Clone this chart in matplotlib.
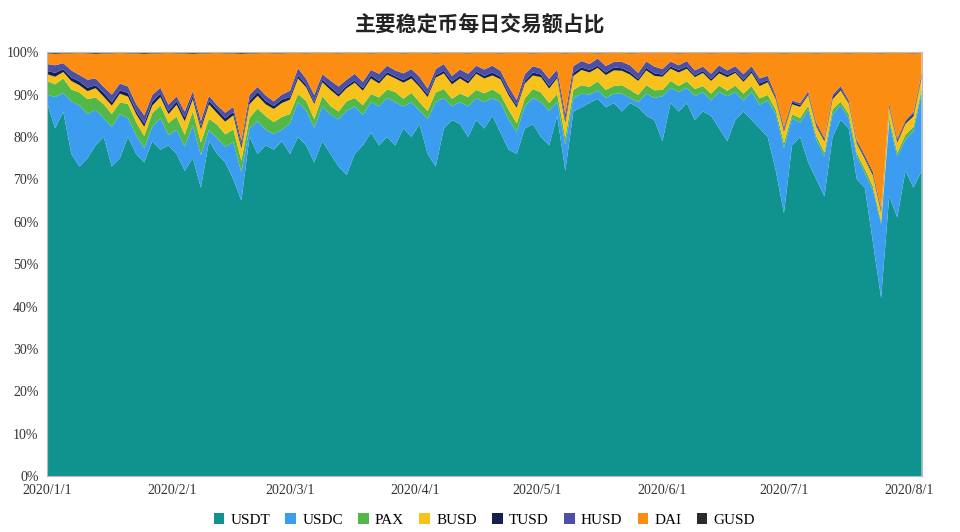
import matplotlib
matplotlib.use("Agg")
import matplotlib.pyplot as plt
import matplotlib.dates as mdates
import numpy as np
import pandas as pd

# every second day from 2020/1/1
dates = pd.date_range("2020-01-01", periods=109, freq="2D")

usdt = [88, 82, 86, 76, 73, 75, 78, 80, 73, 75, 80, 76, 74, 79, 77, 78,
        76, 72, 75, 68, 79, 76, 74, 70, 65, 80, 76, 78, 77, 79,
        76, 80, 78, 74, 79, 76, 73, 71, 76, 78, 81, 78, 80, 78, 82, 80,
        83, 76, 73, 82, 84, 83, 80, 84, 82, 85, 81, 77, 76, 82, 83, 80,
        78, 85, 72, 86, 87, 88, 89, 87, 88, 86, 88, 87, 85, 84,
        79, 88, 86, 88, 84, 86, 85, 82, 79, 84, 86, 84, 82, 80,
        72, 62, 78, 80, 74, 70, 66, 80, 84, 82, 70, 68, 55, 42, 66, 61,
        72, 68, 72]
usdc = [2, 7.4, 4.4, 12.4, 14.4, 10.4, 8.4, 4.4, 9.4, 10.4, 4.4, 4.4, 3.4, 3.4, 7.4, 2.4,
        5.7, 5.7, 7.7, 7.7, 2.7, 3.7, 3.7, 8.7, 6.7, 2, 7.7, 3.7, 3.7, 2.7,
        7.2, 8.2, 8.2, 8.2, 8.2, 9.2, 11.2, 15.2, 11.2, 7.2, 7.2, 9.2, 9.2, 10.2, 5.2, 8.2,
        3.2, 8.2, 15.2, 7.2, 3.2, 5.2, 7.2, 5.2, 6.2, 4.2, 7.2, 7.2, 5.2, 5.2, 6.2, 8.2,
        8.2, 3.2, 6.2, 3.2, 3.2, 2, 2, 2.2, 2.2, 4.2, 1.2, 1.2, 5.2, 5.2,
        10.6, 3.6, 4.6, 3.6, 5.6, 4.6, 3.6, 8.6, 10.6, 6.6, 2.6, 6.6, 5.6, 8.6,
        13.4, 15.4, 6.4, 3.4, 12.4, 9.4, 9.4, 5.4, 3.4, 2.4, 5.4, 3.4, 12.4, 17.4, 17.4, 14.4,
        7.4, 13.4, 18.4]
pax = [3.2, 3.0, 3.4, 2.8, 3.1, 3.5, 2.9, 3.3, 3.0, 2.7, 3.4, 3.1, 2.8, 3.2, 3.0, 2.9,
       3.1, 2.8, 3.3, 3.0, 2.6, 3.2, 2.9, 3.1, 2.7, 2.5, 3.0, 3.2, 2.8, 3.0,
       2.2, 1.9, 2.3, 2.0, 2.4, 2.1, 1.8, 2.2, 2.0, 2.3, 1.9, 2.1, 2.0, 2.4, 1.8, 2.2,
       2.0, 1.9, 2.3, 2.1, 1.8, 2.0, 2.2, 1.9, 2.1, 2.0, 1.8, 2.2, 2.0, 1.9, 2.1, 2.3,
       1.8, 2.0, 1.7, 1.9, 2.0, 1.8, 2.1, 1.9, 1.8, 2.0, 1.9, 1.7, 2.0, 1.8,
       1.5, 1.6, 1.4, 1.5, 1.7, 1.4, 1.6, 1.5, 1.3, 1.5, 1.6, 1.4, 1.5, 1.3,
       1.0, 1.2, 0.9, 1.1, 1.0, 0.8, 1.0, 1.1, 0.9, 1.0, 0.8, 1.0, 0.9, 0.7, 1.0, 0.9,
       1.1, 1.0, 0.9]
busd = [1.6, 1.8, 1.5, 2.0, 1.7, 1.9, 2.2, 1.8, 2.0, 2.1, 1.7, 1.9, 2.2, 1.8, 2.0, 2.1,
        2.8, 3.2, 2.9, 3.1, 3.4, 2.7, 3.0, 3.3, 2.9, 3.2, 3.0, 2.8, 3.1, 3.3,
        3.4, 3.7, 3.2, 3.6, 3.3, 3.8, 3.5, 3.1, 3.6, 3.4, 3.7, 3.3, 3.5, 3.2, 3.8, 3.4,
        3.6, 3.3, 3.5, 3.7, 3.4, 3.6, 3.2, 3.8, 3.5, 3.3, 3.6, 3.4, 3.7, 3.5, 3.2, 3.6,
        3.4, 3.7, 3.5, 3.3, 3.6, 3.4, 3.2, 3.5, 3.7, 3.4, 3.6, 3.3, 3.5, 3.4,
        3.1, 2.9, 3.2, 3.0, 2.8, 3.1, 3.0, 2.9, 3.2, 3.0, 2.8, 3.1, 2.9, 3.0,
        2.5, 2.7, 2.4, 2.6, 2.5, 2.3, 2.6, 2.4, 2.7, 2.5, 2.3, 2.4, 2.6, 2.2, 2.5, 2.4,
        2.6, 2.5, 2.7]
tusd = [0.8, 0.9, 0.7, 0.8, 0.9, 0.8, 0.7, 0.9, 0.8, 0.8, 0.9, 0.7, 0.8, 0.9, 0.8, 0.7,
        0.8, 0.9, 0.8, 0.7, 0.8, 0.9, 0.8, 0.8, 0.7, 0.8, 0.9, 0.8, 0.7, 0.8,
        0.6, 0.7, 0.6, 0.5, 0.6, 0.7, 0.6, 0.6, 0.5, 0.6, 0.7, 0.6, 0.6, 0.5, 0.6, 0.7,
        0.6, 0.6, 0.5, 0.6, 0.7, 0.6, 0.6, 0.5, 0.6, 0.7, 0.6, 0.6, 0.5, 0.6, 0.7, 0.6,
        0.6, 0.5, 0.6, 0.7, 0.6, 0.6, 0.5, 0.6, 0.7, 0.6, 0.6, 0.5, 0.6, 0.6,
        0.5, 0.5, 0.6, 0.5, 0.4, 0.5, 0.5, 0.6, 0.5, 0.4, 0.5, 0.5, 0.6, 0.5,
        0.4, 0.4, 0.5, 0.4, 0.3, 0.4, 0.4, 0.5, 0.4, 0.3, 0.4, 0.4, 0.5, 0.4, 0.3, 0.4,
        0.4, 0.5, 0.4]
husd = [1.6, 1.8, 1.4, 1.7, 1.5, 1.9, 1.6, 1.4, 1.8, 1.6, 1.5, 1.7, 1.9, 1.6, 1.4, 1.5,
        1.2, 1.4, 1.1, 1.3, 1.2, 1.0, 1.3, 1.2, 1.1, 1.4, 1.2, 1.3, 1.1, 1.2,
        1.5, 1.7, 1.4, 1.6, 1.3, 1.5, 1.8, 1.4, 1.6, 1.5, 1.3, 1.7, 1.5, 1.4, 1.6, 1.5,
        1.8, 1.4, 1.5, 1.6, 1.3, 1.5, 1.7, 1.4, 1.5, 1.6, 1.4, 1.5, 1.3, 1.6, 1.5, 1.4,
        1.7, 1.5, 1.4, 1.6, 1.5, 1.4, 1.7, 1.5, 1.3, 1.5, 1.6, 1.4, 1.5, 1.6,
        1.3, 1.2, 1.1, 1.3, 1.2, 1.0, 1.2, 1.3, 1.1, 1.2, 1.3, 1.1, 1.2, 1.0,
        0.5, 0.6, 0.4, 0.5, 0.6, 0.5, 0.4, 0.5, 0.6, 0.5, 0.4, 0.5, 0.4, 0.5, 0.6, 0.5,
        0.4, 0.5, 0.6]
gusd = [0.3, 0.4, 0.3, 0.3, 0.2, 0.3, 0.4, 0.3, 0.3, 0.2, 0.3, 0.3, 0.4, 0.3, 0.3, 0.2,
        0.3, 0.3, 0.4, 0.3, 0.3, 0.2, 0.3, 0.3, 0.4, 0.3, 0.3, 0.2, 0.3, 0.3,
        0.2, 0.2, 0.3, 0.2, 0.2, 0.2, 0.3, 0.2, 0.2, 0.2, 0.3, 0.2, 0.2, 0.2, 0.3, 0.2,
        0.2, 0.2, 0.3, 0.2, 0.2, 0.2, 0.3, 0.2, 0.2, 0.2, 0.3, 0.2, 0.2, 0.2, 0.3, 0.2,
        0.2, 0.2, 0.3, 0.2, 0.2, 0.2, 0.3, 0.2, 0.2, 0.2, 0.3, 0.2, 0.2, 0.2,
        0.2, 0.2, 0.3, 0.2, 0.2, 0.2, 0.3, 0.2, 0.2, 0.2, 0.3, 0.2, 0.2, 0.2,
        0.2, 0.3, 0.2, 0.2, 0.2, 0.3, 0.2, 0.2, 0.2, 0.3, 0.2, 0.2, 0.2, 0.3, 0.2, 0.2,
        0.2, 0.3, 0.2]

names = ["USDT", "USDC", "PAX", "BUSD", "TUSD", "HUSD", "DAI", "GUSD"]
colors = ["#10938e", "#3b9cf0", "#52b848", "#f7c21b", "#16204f", "#4c4fa6", "#fb8d12", "#2b2b2b"]

# DAI share is whatever is left of 100%
known = np.array([usdt, usdc, pax, busd, tusd, husd, gusd])
dai = np.clip(100 - known.sum(axis=0), 0, None)
series = [usdt, usdc, pax, busd, tusd, husd, dai, gusd]
total = np.sum(series, axis=0)
shares = [np.array(s) / total for s in series]

plt.rcParams["font.family"] = ["Liberation Serif", "Noto Sans CJK SC"]
fig = plt.figure(figsize=(9.6, 5.32), dpi=100)
ax = fig.add_axes([0.049, 0.105, 0.911, 0.797])

ax.stackplot(dates, shares, labels=names, colors=colors, linewidth=0)

ax.set_ylim(0, 1)
ax.set_xlim(pd.Timestamp("2020-01-01"), dates[-1])
ax.set_yticks(np.arange(0, 1.01, 0.1))
ax.set_yticklabels([f"{int(round(v * 100))}%" for v in np.arange(0, 1.01, 0.1)])
ax.xaxis.set_major_locator(mdates.MonthLocator())
ax.xaxis.set_major_formatter(mdates.DateFormatter("%Y/%-m/%-d"))
ax.tick_params(labelsize=10, colors="#333333", length=0, pad=6)
for sp in ax.spines.values():
    sp.set_color("#bbbbbb")

fig.suptitle("主要稳定币每日交易额占比", family="Noto Sans CJK SC", fontsize=15,
             fontweight="bold", color="#222222", y=0.975)

ax.legend(loc="upper center", bbox_to_anchor=(0.5, -0.055), ncol=8, frameon=False,
          fontsize=11, handlelength=0.7, handleheight=0.7, columnspacing=1.0,
          handletextpad=0.4)

fig.savefig("out.png", dpi=100)
